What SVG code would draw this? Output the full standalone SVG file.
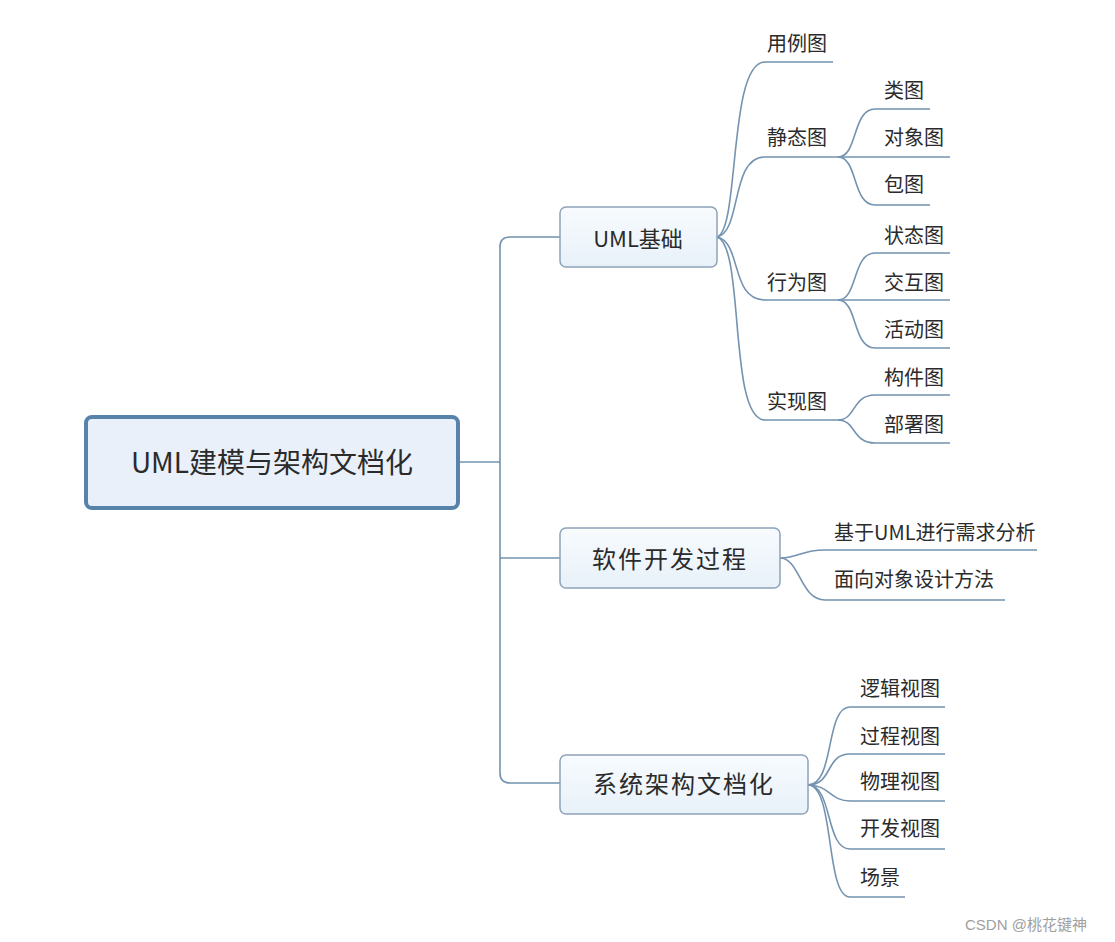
<svg xmlns="http://www.w3.org/2000/svg" width="1115" height="942" viewBox="0 0 1115 942">
<defs>
<linearGradient id="bg" x1="0" y1="0" x2="0" y2="1">
<stop offset="0" stop-color="#f7fbfe"/>
<stop offset="1" stop-color="#e8f1f9"/>
</linearGradient>
<style>
.t{font-family:"Noto Sans CJK SC","Liberation Sans",sans-serif;fill:#2b2b2b;}
.leaf{font-size:20px;}
.box{fill:url(#bg);stroke:#8ea3b8;stroke-width:1.5;}
.c{fill:none;stroke:#7393b0;stroke-width:1.6;}
</style>
</defs>
<rect width="1115" height="942" fill="#ffffff"/>
<g id="connectors">
<path class="c" d="M459 462 H500"/>
<path class="c" d="M560 237 H510 Q500 237 500 247 V773 Q500 783 510 783 H560"/>
<path class="c" d="M500 558 H560"/>
<!-- UML基础 children -->
<path class="c" d="M717 237 C740 230 728 62 765 62 H833"/>
<path class="c" d="M717 237 C742 232 730 157 765 157 H838"/>
<path class="c" d="M717 237 C742 242 730 300 765 300 H838"/>
<path class="c" d="M717 237 C745 245 728 420 765 420 H838"/>
<!-- 静态图 children -->
<path class="c" d="M838 157 C858 157 852 109 875 109 H930"/>
<path class="c" d="M838 157 H950"/>
<path class="c" d="M838 157 C858 157 852 205 875 205 H930"/>
<!-- 行为图 children -->
<path class="c" d="M838 300 C858 300 852 253 875 253 H950"/>
<path class="c" d="M838 300 H950"/>
<path class="c" d="M838 300 C858 300 852 348 875 348 H950"/>
<!-- 实现图 children -->
<path class="c" d="M838 420 C856 420 852 395 875 395 H950"/>
<path class="c" d="M838 420 C856 420 852 443 875 443 H950"/>
<!-- 软件开发过程 children -->
<path class="c" d="M780 558 C800 558 800 550 825 550 H1037"/>
<path class="c" d="M780 558 C800 558 800 600 825 600 H1005"/>
<!-- 系统架构文档化 children -->
<path class="c" d="M808 785 C835 785 825 707 850 707 H945"/>
<path class="c" d="M808 785 C833 785 825 754 850 754 H945"/>
<path class="c" d="M808 785 C830 785 830 801 850 801 H945"/>
<path class="c" d="M808 785 C833 785 825 849 850 849 H945"/>
<path class="c" d="M808 785 C835 785 825 897 850 897 H905"/>
</g>
<g id="root">
<rect x="86" y="417" width="372" height="91" rx="6" fill="#e9f0f9" stroke="#5783ab" stroke-width="4"/>
<text class="t" x="272" y="473" font-size="28" text-anchor="middle">UML建模与架构文档化</text>
</g>
<g id="uml">
<rect class="box" x="560" y="207" width="157" height="60" rx="6"/>
<text class="t" x="638" y="247" font-size="22" text-anchor="middle">UML基础</text>
</g>
<g id="soft">
<rect class="box" x="560" y="528" width="220" height="60" rx="6"/>
<text class="t" x="670" y="568" font-size="24" text-anchor="middle" letter-spacing="2">软件开发过程</text>
</g>
<g id="sys">
<rect class="box" x="560" y="755" width="248" height="59" rx="6"/>
<text class="t" x="684" y="793" font-size="24" text-anchor="middle" letter-spacing="2">系统架构文档化</text>
</g>
<g id="n-yongli"><text class="t leaf" x="767" y="51">用例图</text></g>
<g id="n-jingtai"><text class="t leaf" x="767" y="145">静态图</text></g>
<g id="n-lei"><text class="t leaf" x="884" y="98">类图</text></g>
<g id="n-duixiang"><text class="t leaf" x="884" y="145">对象图</text></g>
<g id="n-bao"><text class="t leaf" x="884" y="192">包图</text></g>
<g id="n-xingwei"><text class="t leaf" x="767" y="290">行为图</text></g>
<g id="n-zhuangtai"><text class="t leaf" x="884" y="243">状态图</text></g>
<g id="n-jiaohu"><text class="t leaf" x="884" y="290">交互图</text></g>
<g id="n-huodong"><text class="t leaf" x="884" y="337">活动图</text></g>
<g id="n-shixian"><text class="t leaf" x="767" y="409">实现图</text></g>
<g id="n-goujian"><text class="t leaf" x="884" y="385">构件图</text></g>
<g id="n-bushu"><text class="t leaf" x="884" y="432">部署图</text></g>
<g id="n-xuqiu"><text class="t leaf" x="834" y="540">基于UML进行需求分析</text></g>
<g id="n-mianxiang"><text class="t leaf" x="834" y="587">面向对象设计方法</text></g>
<g id="n-luoji"><text class="t leaf" x="860" y="696">逻辑视图</text></g>
<g id="n-guocheng"><text class="t leaf" x="860" y="744">过程视图</text></g>
<g id="n-wuli"><text class="t leaf" x="860" y="789">物理视图</text></g>
<g id="n-kaifa"><text class="t leaf" x="860" y="836">开发视图</text></g>
<g id="n-changjing"><text class="t leaf" x="860" y="885">场景</text></g>
<text x="965" y="930" font-family="Liberation Sans,Noto Sans CJK SC,sans-serif" font-size="15" fill="#a0a0a0">CSDN @桃花键神</text>
</svg>
